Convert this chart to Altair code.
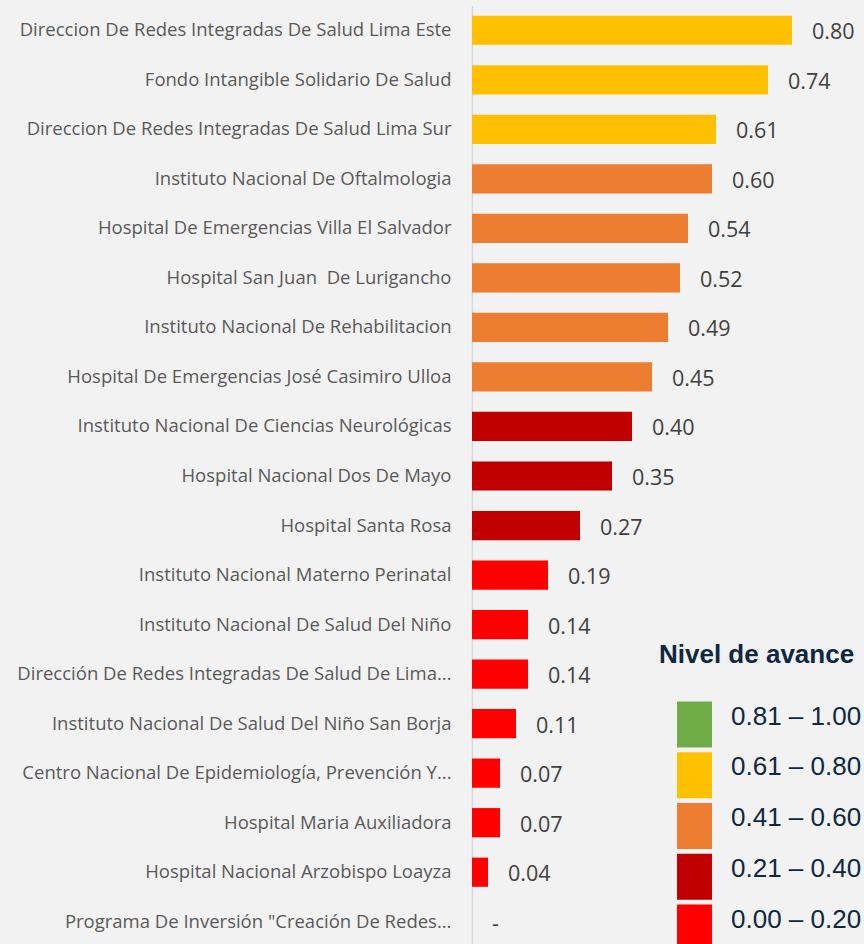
import altair as alt
import pandas as pd

categories = [
    "Direccion De Redes Integradas De Salud Lima Este",
    "Fondo Intangible Solidario De Salud",
    "Direccion De Redes Integradas De Salud Lima Sur",
    "Instituto Nacional De Oftalmologia",
    "Hospital De Emergencias Villa El Salvador",
    "Hospital San Juan  De Lurigancho",
    "Instituto Nacional De Rehabilitacion",
    "Hospital De Emergencias José Casimiro Ulloa",
    "Instituto Nacional De Ciencias Neurológicas",
    "Hospital Nacional Dos De Mayo",
    "Hospital Santa Rosa",
    "Instituto Nacional Materno Perinatal",
    "Instituto Nacional De Salud Del Niño",
    "Dirección De Redes Integradas De Salud De Lima...",
    "Instituto Nacional De Salud Del Niño San Borja",
    "Centro Nacional De Epidemiología, Prevención Y...",
    "Hospital Maria Auxiliadora",
    "Hospital Nacional Arzobispo Loayza",
    "Programa De Inversión \"Creación De Redes...",
]
values = [0.80, 0.74, 0.61, 0.60, 0.54, 0.52, 0.49, 0.45, 0.40, 0.35,
          0.27, 0.19, 0.14, 0.14, 0.11, 0.07, 0.07, 0.04, 0.00]

levels = ["0.81 – 1.00", "0.61 – 0.80", "0.41 – 0.60", "0.21 – 0.40", "0.00 – 0.20"]
level_lower = [0.81, 0.61, 0.41, 0.21, 0.00]
level_colors = ["#70AD47", "#FFC000", "#ED7D31", "#C00000", "#FF0000"]


def level_of(v):
    for lab, lo in zip(levels, level_lower):
        if round(v, 2) >= lo:
            return lab
    return levels[-1]


df = pd.DataFrame({
    "entidad": categories,
    "avance": values,
    "nivel": [level_of(v) for v in values],
    "etiqueta": [f"{v:.2f}" if v > 0 else "-" for v in values],
})

y_enc = alt.Y(
    "entidad:N",
    sort=categories,
    scale=alt.Scale(paddingInner=0.41, paddingOuter=0.205),
    axis=alt.Axis(
        title=None,
        ticks=False,
        tickSize=0,
        labelPadding=21,
        labelLimit=470,
        labelFont="Open Sans",
        labelFontSize=18.5,
        labelColor="#595959",
        labelExpr="replace(datum.label, '  ', ' \u00a0')",
        domainColor="#D9D9D9",
        domainWidth=1.5,
        grid=False,
    ),
)
x_enc = alt.X("avance:Q", scale=alt.Scale(domain=[0, 0.98], nice=False), axis=None)

bars = alt.Chart(df).mark_bar().encode(
    x=x_enc,
    y=y_enc,
    color=alt.Color(
        "nivel:N",
        scale=alt.Scale(domain=levels, range=level_colors),
        legend=alt.Legend(
            title="Nivel de avance",
            orient="none",
            legendX=187,
            legendY=636,
            padding=0,
            titleFont="Liberation Sans",
            titleFontSize=26,
            titleFontWeight="bold",
            titleColor="#0E2841",
            titlePadding=34,
            titleLimit=400,
            labelFont="Liberation Sans",
            labelFontSize=26,
            labelColor="#0E2841",
            labelBaseline="alphabetic",
            labelOffset=26,
            labelLimit=300,
            symbolType="M-0.217,-1H1.304V1H-0.217Z",
            symbolSize=2116,
            symbolStrokeWidth=0,
            symbolOpacity=1,
            rowPadding=4.75,
        ),
    ),
)

text = alt.Chart(df).mark_text(
    align="left", baseline="middle", dx=20, dy=3,
    font="Open Sans", fontSize=21.5, color="#404040",
).encode(
    x=x_enc,
    y=alt.Y("entidad:N", sort=categories),
    text="etiqueta:N",
)

chart = alt.layer(bars, text).properties(
    width=392,
    height=941,
    padding={"left": 472, "top": 5.5, "right": 0, "bottom": 0},
    autosize=alt.AutoSizeParams(type="none"),
    background="#F2F2F2",
).configure_view(stroke=None)

chart.save("out.html", embed_options={"renderer": "svg", "actions": False})
